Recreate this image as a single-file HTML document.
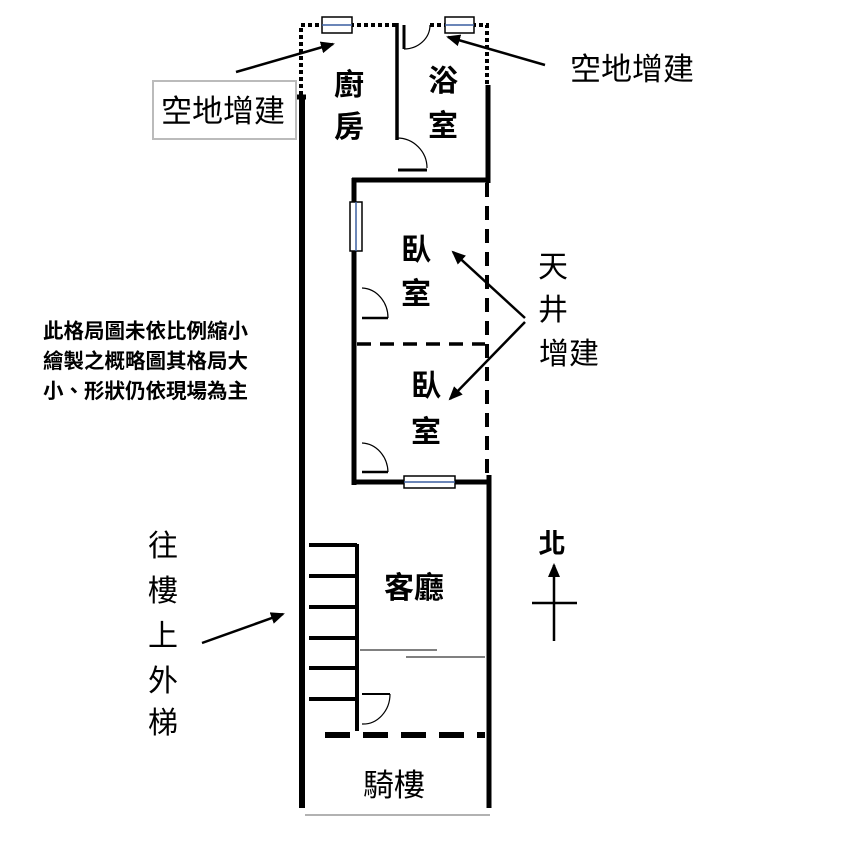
<!DOCTYPE html>
<html><head><meta charset="utf-8"><style>
html,body{margin:0;padding:0;background:#fff;}
svg{display:block;}
text{font-family:"Liberation Sans","Noto Sans CJK TC",sans-serif;}
</style></head><body>
<svg width="858" height="856" viewBox="0 0 858 856" xmlns="http://www.w3.org/2000/svg">
<defs>
<marker id="ah2" markerWidth="14" markerHeight="12" refX="12" refY="6" orient="auto" markerUnits="userSpaceOnUse"><path d="M0,0 L14,6 L0,12 Z"/></marker></defs>
<rect width="858" height="856" fill="#fff"/>
<g stroke="#000" fill="none">
<path d="M301,95 V25 H397" stroke-width="4" stroke-dasharray="4,3"/>
<path d="M430,25 H487 V85" stroke-width="4" stroke-dasharray="4,3"/>
<rect x="322" y="17" width="30" height="16" fill="#fff" stroke-width="1.5"/>
<line x1="322" y1="25" x2="352" y2="25" stroke="#3a5fa0" stroke-width="1.5"/>
<rect x="445" y="17" width="29" height="16" fill="#fff" stroke-width="1.5"/>
<line x1="445" y1="25" x2="474" y2="25" stroke="#3a5fa0" stroke-width="1.5"/>
<line x1="302" y1="95" x2="302" y2="808" stroke-width="6"/>
<line x1="297" y1="97" x2="306" y2="97" stroke-width="5"/>
<line x1="397" y1="23" x2="397" y2="140" stroke-width="3.5"/>
<line x1="488" y1="85" x2="488" y2="183" stroke-width="5"/>
<line x1="352" y1="180" x2="490" y2="180" stroke-width="5"/>
<line x1="354" y1="178" x2="354" y2="485" stroke-width="5"/>
<line x1="352" y1="482" x2="490" y2="482" stroke-width="5"/>
<line x1="487" y1="183" x2="487" y2="475" stroke-width="4" stroke-dasharray="14,9"/>
<line x1="357" y1="344" x2="485" y2="344" stroke-width="3.5" stroke-dasharray="14,9"/>
<line x1="489" y1="475" x2="489" y2="808" stroke-width="5"/>
<line x1="404" y1="25" x2="404" y2="49" stroke-width="3"/>
<path d="M404,49 A26,24 0 0 0 430,25" stroke-width="1.2"/>
<path d="M397,138 A30,30 0 0 1 427,168" stroke-width="1.2"/>
<line x1="398" y1="170" x2="427" y2="170" stroke-width="3"/>
<path d="M362,288 A27,30 0 0 1 388,318" stroke-width="1.2"/>
<line x1="362" y1="318" x2="388" y2="318" stroke-width="2.5"/>
<path d="M362,443 A27,30 0 0 1 388,472" stroke-width="1.2"/>
<line x1="362" y1="472" x2="388" y2="472" stroke-width="2.5"/>
<line x1="362" y1="694" x2="390" y2="694" stroke-width="2"/>
<path d="M390,694 A27,30 0 0 1 362,724" stroke-width="1.2"/>
<rect x="350" y="202" width="12" height="49" fill="#fff" stroke-width="1.5"/>
<line x1="356" y1="202" x2="356" y2="251" stroke="#3a5fa0" stroke-width="1.5"/>
<rect x="404" y="476" width="51" height="12" fill="#fff" stroke-width="1.5"/>
<line x1="404" y1="482" x2="455" y2="482" stroke="#3a5fa0" stroke-width="1.5"/>
<line x1="357" y1="544" x2="357" y2="731" stroke-width="4"/>
<g stroke-width="4">
<line x1="309" y1="545" x2="357" y2="545"/><line x1="309" y1="576" x2="357" y2="576"/>
<line x1="309" y1="607" x2="357" y2="607"/><line x1="309" y1="638" x2="357" y2="638"/>
<line x1="309" y1="668" x2="357" y2="668"/><line x1="309" y1="699" x2="357" y2="699"/>
</g>
<line x1="360" y1="650" x2="437" y2="650" stroke-width="1"/>
<line x1="406" y1="657" x2="485" y2="657" stroke-width="1"/>
<line x1="325" y1="735" x2="485" y2="735" stroke-width="6" stroke-dasharray="25,13"/>
<line x1="305" y1="815" x2="490" y2="815" stroke-width="1" stroke="#666"/>
<line x1="236" y1="72" x2="333" y2="44" stroke-width="2.5" marker-end="url(#ah2)"/>
<line x1="545" y1="65" x2="448" y2="37" stroke-width="2.5" marker-end="url(#ah2)"/>
<line x1="525" y1="318" x2="453" y2="252" stroke-width="2.5" marker-end="url(#ah2)"/>
<line x1="525" y1="322" x2="450" y2="399" stroke-width="2.5" marker-end="url(#ah2)"/>
<line x1="202" y1="643" x2="283" y2="614" stroke-width="2.5" marker-end="url(#ah2)"/>
<line x1="554" y1="641" x2="554" y2="565" stroke-width="2.5" marker-end="url(#ah2)"/>
<line x1="532" y1="603" x2="577" y2="603" stroke-width="2.5"/>
<rect x="153" y="81" width="143" height="58" stroke="#bbb" stroke-width="2"/>
</g>
<g fill="#000">
<text x="223" y="122" font-size="31" text-anchor="middle">空地增建</text>
<text x="632" y="80" font-size="31" text-anchor="middle">空地增建</text>
<g font-size="30" font-weight="bold" text-anchor="middle">
<text x="349" y="95">廚</text><text x="349" y="137">房</text>
<text x="443" y="91">浴</text><text x="443" y="136">室</text>
<text x="416" y="260">臥</text><text x="416" y="304">室</text>
<text x="426" y="396">臥</text><text x="426" y="442">室</text>
<text x="414" y="598">客廳</text>
<text x="394" y="796" font-weight="normal" font-size="31">騎樓</text>
<text x="552" y="553" font-size="27">北</text>
</g>
<g font-size="30" text-anchor="middle">
<text x="553" y="277">天</text><text x="553" y="320">井</text><text x="569" y="364">增建</text>
<text x="163" y="556">往</text><text x="163" y="601">樓</text><text x="163" y="646">上</text>
<text x="163" y="691">外</text><text x="163" y="733">梯</text>
</g>
<g font-size="20.5" font-weight="bold">
<text x="43" y="338">此格局圖未依比例縮小</text>
<text x="43" y="368">繪製之概略圖其格局大</text>
<text x="43" y="398">小、形狀仍依現場為主</text>
</g>
</g>
</svg>
</body></html>
